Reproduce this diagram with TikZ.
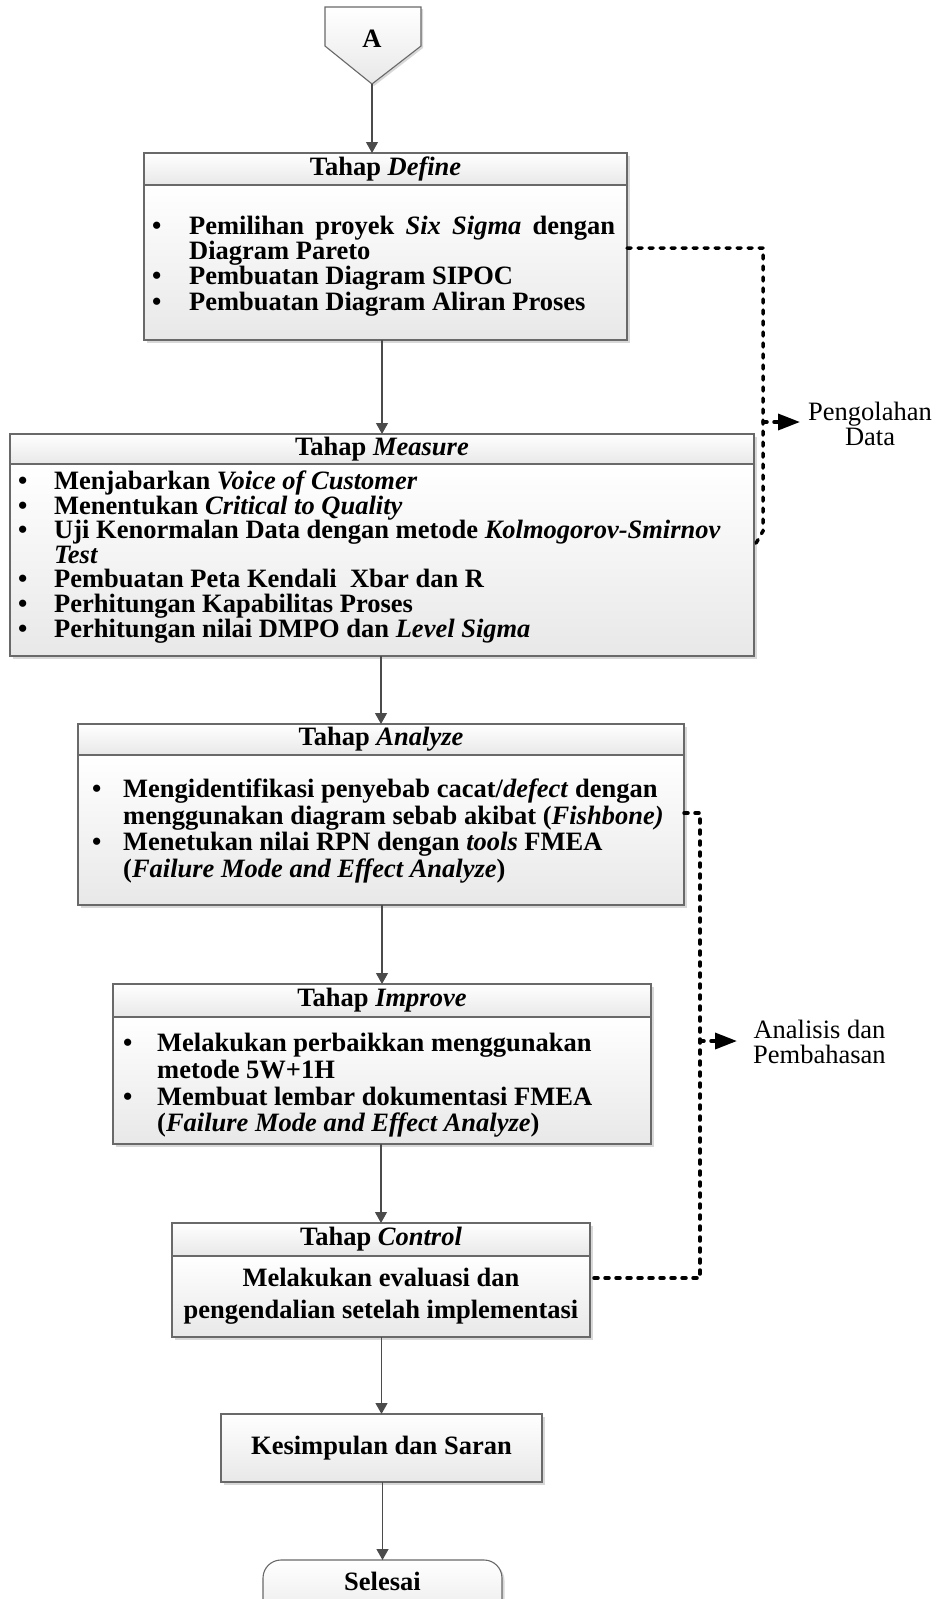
\documentclass[tikz,border=0pt]{standalone}
\usepackage{fontspec}
\setmainfont{Liberation Serif}
\usetikzlibrary{arrows.meta,shadows}
\definecolor{bord}{RGB}{105,105,105}
\definecolor{arrc}{RGB}{75,75,75}
\definecolor{shadeb}{RGB}{232,232,232}
\newcommand{\bu}[1]{\llap{\makebox[#1pt][l]{\textbullet}}}
\begin{document}
\begin{tikzpicture}[x=1pt,y=-1pt,
  boxpart/.style={draw=bord, line width=1.1pt, top color=white, bottom color=shadeb,
    inner sep=0pt, outer sep=0pt, anchor=north west,
    drop shadow={shadow xshift=2.5pt, shadow yshift=-2.5pt, fill=black!30, opacity=0.5},
    font=\fontsize{26.5}{30}\selectfont\bfseries},
  txt/.style={inner sep=0pt, anchor=base west, font=\fontsize{26.5}{30}\selectfont\bfseries},
  ctxt/.style={txt, anchor=base},
  lbl/.style={inner sep=0pt, align=center, font=\fontsize{26.5}{25.5}\selectfont},
  flow/.style={draw=arrc, line width=1.2pt, -{Triangle[length=11pt,width=12pt]}},
  dots/.style={line width=3.5pt, line cap=round, dash pattern=on 4pt off 7pt},
  darr/.style={dots, -{Triangle[length=22pt,width=16pt]}}
]
\fill[white] (0,0) rectangle (936,1599);
\useasboundingbox (0,0) rectangle (936,1599);

% off-page connector A
\draw[draw=bord, line width=1.1pt, top color=white, bottom color=shadeb,
  drop shadow={shadow xshift=2pt, shadow yshift=-2pt, fill=black!30, opacity=0.5}]
  (325,7) -- (421,7) -- (421,46) -- (372,84) -- (325,46) -- cycle;
\node[txt, anchor=base] (A) at (372,47) {A};
\coordinate (Atip) at (372,84);

% Define
\node[boxpart, minimum width=483pt, minimum height=32pt] (defh) at (144,153) {Tahap \textit{Define}};
\node[boxpart, minimum width=483pt, minimum height=155pt] (defb) at (144,185) {};
\node[txt] (d1) at (189,234) {\bu{37}\makebox[426pt][s]{Pemilihan proyek \textit{Six Sigma} dengan}};
\node[txt] (d2) at (189,259) {Diagram Pareto};
\node[txt] (d3) at (189,284) {\bu{37}Pembuatan Diagram SIPOC};
\node[txt] (d4) at (189,310) {\bu{37}Pembuatan Diagram Aliran Proses};

% Measure
\node[boxpart, minimum width=744pt, minimum height=30pt] (meah) at (10,434) {Tahap \textit{Measure}};
\node[boxpart, minimum width=744pt, minimum height=192pt] (meab) at (10,464) {};
\node[txt] (m1) at (54,489.5) {\bu{36}Menjabarkan \textit{Voice of Customer}};
\node[txt] (m2) at (54,514.5) {\bu{36}Menentukan \textit{Critical to Quality}};
\node[txt] (m3) at (54,538.5) {\bu{36}Uji Kenormalan Data dengan metode \textit{Kolmogorov-Smirnov}};
\node[txt] (m4) at (54,563.5) {\textit{Test}};
\node[txt] (m5) at (54,587.5) {\bu{36}Pembuatan Peta Kendali\ \ Xbar dan R};
\node[txt] (m6) at (54,612.5) {\bu{36}Perhitungan Kapabilitas Proses};
\node[txt] (m7) at (54,637.5) {\bu{36}Perhitungan nilai DMPO dan \textit{Level Sigma}};

% Analyze
\node[boxpart, minimum width=606pt, minimum height=31pt] (anah) at (78,724) {Tahap \textit{Analyze}};
\node[boxpart, minimum width=606pt, minimum height=150pt] (anab) at (78,755) {};
\node[txt] (a1) at (123,797.5) {\bu{31}Mengidentifikasi penyebab cacat/\textit{defect} dengan};
\node[txt] (a2) at (123,824) {menggunakan diagram sebab akibat (\textit{Fishbone)}};
\node[txt] (a3) at (123,850.5) {\bu{31}Menetukan nilai RPN dengan \textit{tools} FMEA};
\node[txt] (a4) at (123,877) {(\textit{Failure Mode and Effect Analyze})};

% Improve
\node[boxpart, minimum width=538pt, minimum height=33pt] (imph) at (113,984) {Tahap \textit{Improve}};
\node[boxpart, minimum width=538pt, minimum height=127pt] (impb) at (113,1017) {};
\node[txt] (i1) at (157,1051.5) {\bu{34}Melakukan perbaikkan menggunakan};
\node[txt] (i2) at (157,1078.5) {metode 5W+1H};
\node[txt] (i3) at (157,1105.5) {\bu{34}Membuat lembar dokumentasi FMEA};
\node[txt] (i4) at (157,1131.5) {(\textit{Failure Mode and Effect Analyze})};

% Control
\node[boxpart, minimum width=418pt, minimum height=33pt] (conh) at (172,1223) {Tahap \textit{Control}};
\node[boxpart, minimum width=418pt, minimum height=81pt] (conb) at (172,1256) {};
\node[ctxt] (c1) at (381,1286.5) {Melakukan evaluasi dan};
\node[ctxt] (c2) at (381,1318.5) {pengendalian setelah implementasi};

% Kesimpulan
\node[boxpart, minimum width=321pt, minimum height=68pt] (kes) at (221,1414) {Kesimpulan dan Saran};

% Selesai
\node[boxpart, rounded corners=18pt, minimum width=239pt, minimum height=65pt] (sel) at (263,1560) {};
\node[ctxt] (selt) at (382.5,1590) {Selesai};

% flow arrows
\draw[flow] (Atip) -- (Atip |- defh.north);
\draw[flow] (defb.south -| meah.north) -- (meah.north);
\draw[flow] (meab.south -| anah.north) -- (anah.north);
\draw[flow] (anab.south -| imph.north) -- (imph.north);
\draw[flow] (impb.south -| conh.north) -- (conh.north);
\draw[flow] (conb.south -| kes.north) -- (kes.north);
\draw[flow] (kes.south -| sel.north) -- (sel.north);

% labels
\node[lbl, anchor=west] (lab1) at (808,424) {Pengolahan\\Data};
\node[lbl, anchor=west] (lab2) at (753,1042) {Analisis dan\\Pembahasan};

% dotted connectors
\coordinate (q1) at (763,248);
\coordinate (q2) at (763,531);
\coordinate (q3) at (755,545);
\coordinate (p1) at (763,422);
\draw[dots] (defb.east |- q1) -- (q1) -- (q2) -- (q3);
\draw[darr, shorten >=8pt] (p1) -- (p1 -| lab1.west);

\coordinate (r1) at (700,813);
\coordinate (r2) at (700,1278);
\coordinate (p2) at (700,1041);
\draw[dots] (anab.east |- r1) -- (r1) -- (r2) -- (conb.east |- r2);
\draw[darr, shorten >=16pt] (p2) -- (p2 -| lab2.west);
\end{tikzpicture}
\end{document}
